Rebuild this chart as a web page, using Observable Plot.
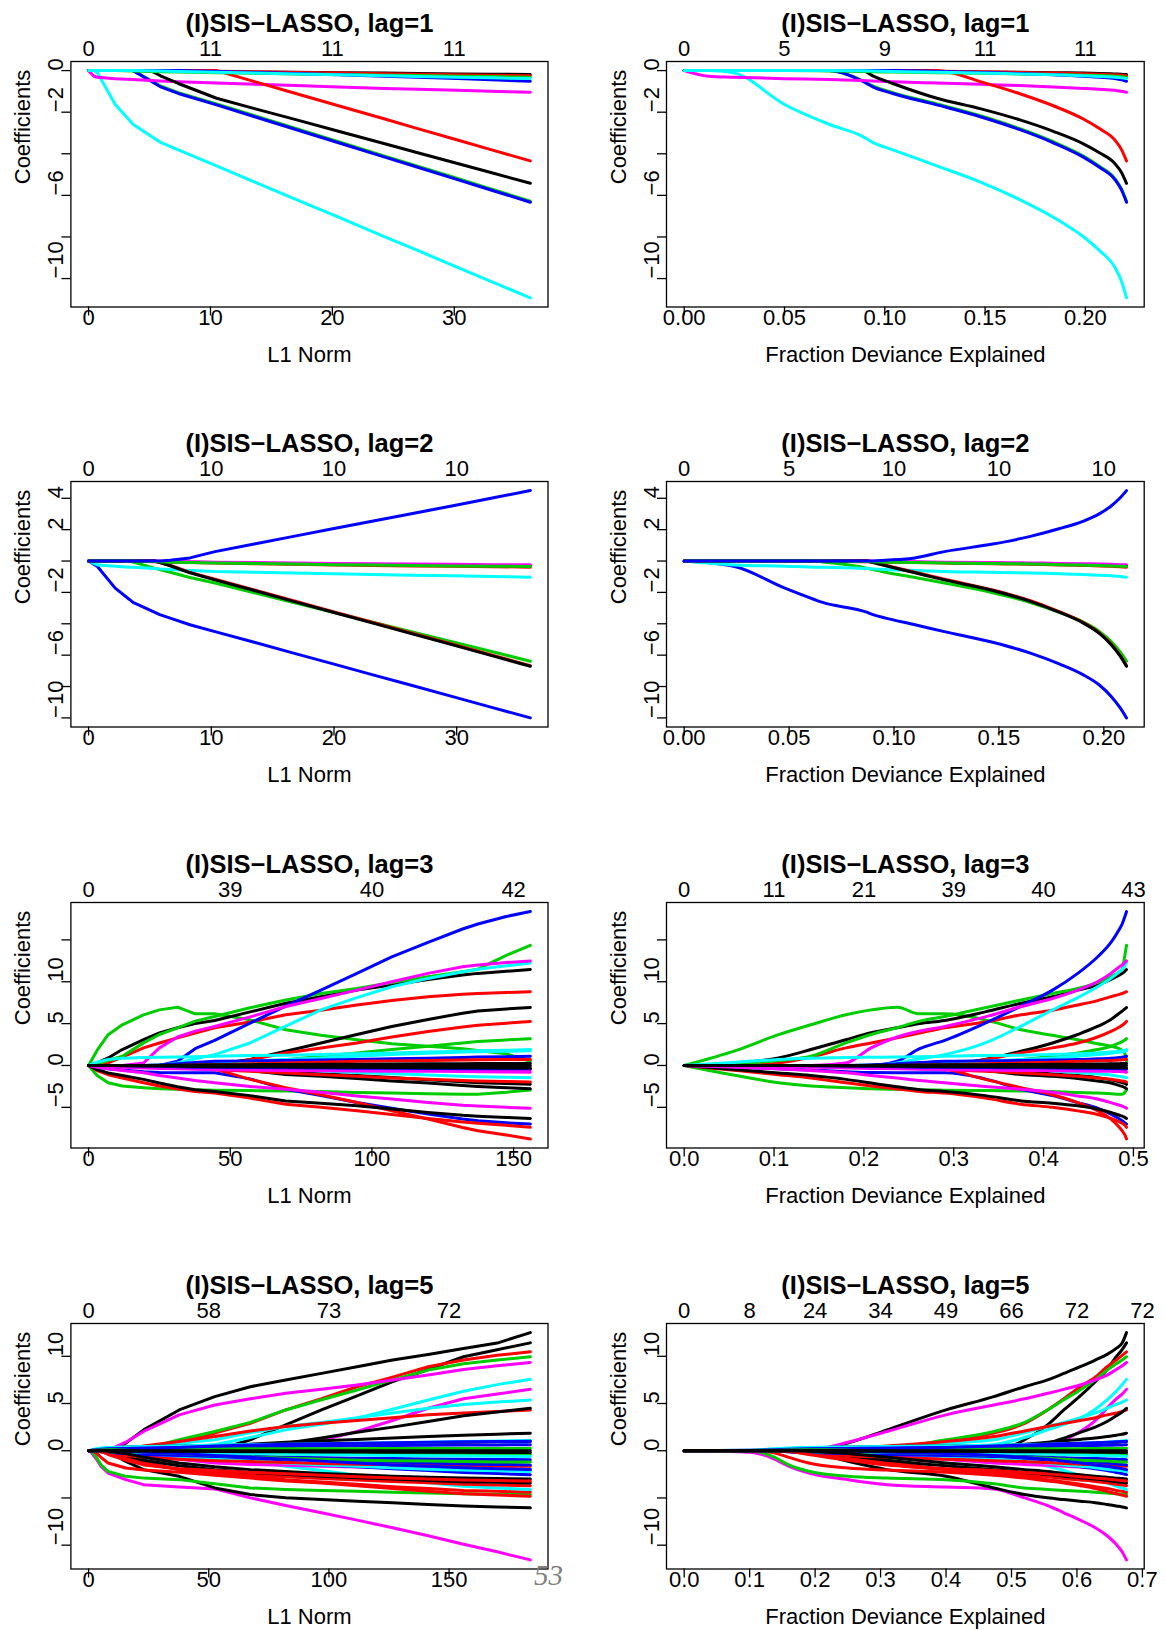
<!DOCTYPE html>
<html><head><meta charset="utf-8">
<script src="https://cdn.jsdelivr.net/npm/d3@7"></script>
<script src="https://cdn.jsdelivr.net/npm/@observablehq/plot@0.6"></script>
<style>
html,body{margin:0;padding:0;background:#fff;}
#page{position:relative;width:1165px;height:1630px;overflow:hidden;background:#fff;}
#page svg{position:absolute;}
#pg{position:absolute;left:534px;top:1561px;font:italic 29px 'Liberation Serif','Times New Roman',serif;color:#808080;line-height:29px;}
</style></head><body><div id="page"><div id="pg">53</div></div>
<script>
const K="#000000",R="#FF0000",G="#00CD00",B="#0000FF",C="#00FFFF",M="#FF00FF";

// ---------- lag = 1 ----------
const lag1L1  = [0,0.44,0.73,2.19,3.65,5.1,5.9,7.36,10.5,13.69,17,20.5,24.3,27,30.27,33,36.24];
const lag1Dev = [0,0.012,0.0247,0.05,0.0722,0.0886,0.094,0.104,0.126,0.148,0.167,0.184,0.199,0.207,0.2147,0.218,0.2205];
const lag1Colors = [K,R,G,B,C,M,K,R,G,B,C];
const lag1Coef = [
 [0,0,0,0,0,-0.01,-0.015,-0.02,-0.05,-0.065,-0.08,-0.1,-0.12,-0.135,-0.16,-0.17,-0.19],
 [0,0,0,0,0,0,0,0,-0.03,-0.06,-0.09,-0.12,-0.15,-0.17,-0.2,-0.22,-0.25],
 [0,0,0,0,0,-0.47,-0.74,-1.06,-1.6,-2.18,-2.78,-3.42,-4.11,-4.6,-5.19,-5.69,-6.28],
 [0,0,0,0,0,-0.5,-0.78,-1.1,-1.65,-2.23,-2.83,-3.47,-4.16,-4.65,-5.24,-5.74,-6.33],
 [0,0,-0.11,-1.63,-2.58,-3.15,-3.45,-3.81,-4.58,-5.37,-6.19,-7.05,-7.99,-8.65,-9.46,-10.13,-10.93],
 [0,-0.27,-0.32,-0.39,-0.43,-0.48,-0.5,-0.54,-0.6,-0.66,-0.72,-0.79,-0.86,-0.9,-0.95,-0.99,-1.04],
 [0,0,0,0,0,0,-0.25,-0.62,-1.33,-1.84,-2.36,-2.92,-3.52,-3.95,-4.47,-4.9,-5.42],
 [0,0,0,0,0,0,0,0,0,-0.54,-1.1,-1.69,-2.33,-2.79,-3.34,-3.8,-4.34],
 [0,0,0,0,-0.02,-0.04,-0.05,-0.07,-0.1,-0.13,-0.16,-0.19,-0.22,-0.24,-0.27,-0.29,-0.32],
 [0,0,0,0,0,0,0,0,-0.04,-0.09,-0.14,-0.2,-0.27,-0.32,-0.38,-0.44,-0.51],
 [0,0,0,0,0,-0.01,-0.02,-0.04,-0.08,-0.12,-0.16,-0.2,-0.25,-0.28,-0.32,-0.35,-0.38]
];
const lag1L1Ticks = [0,10,20,30];
const lag1L1Top = ["0","11","11","11"];
const lag1DevTicks = [0,0.05,0.1,0.15,0.2];
const lag1DevTickText = ["0.00","0.05","0.10","0.15","0.20"];
const lag1DevTop = ["0","5","9","11","11"];
const lag1YTicks = [-10,-8,-6,-4,-2,0];
const lag1YLabels = [-10,-6,-2,0];

// ---------- lag = 2 ----------
const lag2L1  = [0,0.72,2.17,3.33,3.62,5.36,5.8,6.65,8.26,10.3,13.5,16.7,20,23.1,26.3,29.6,33,36];
const lag2Dev = [0,0.024,0.048,0.062,0.066,0.087,0.09,0.096,0.11,0.124,0.147,0.165,0.179,0.19,0.198,0.2035,0.2078,0.2108];
const lag2Colors = [K,R,G,B,C,M,R,K,G,B];
const lag2Coef = [
 [0,0,0,0,0,-0.02,-0.03,-0.05,-0.08,-0.1,-0.14,-0.17,-0.2,-0.22,-0.24,-0.26,-0.28,-0.3],
 [0,0,0,0,0,-0.05,-0.06,-0.08,-0.1,-0.13,-0.17,-0.21,-0.25,-0.28,-0.31,-0.34,-0.36,-0.39],
 [0,0,0,0,-0.06,-0.45,-0.55,-0.72,-1.05,-1.4,-2.02,-2.64,-3.28,-3.88,-4.5,-5.14,-5.8,-6.39],
 [0,-0.35,-1.73,-2.45,-2.64,-3.26,-3.42,-3.64,-4.06,-4.5,-5.18,-5.87,-6.57,-7.24,-7.92,-8.63,-9.36,-10.0],
 [0,-0.25,-0.33,-0.39,-0.4,-0.47,-0.5,-0.54,-0.6,-0.67,-0.72,-0.77,-0.81,-0.86,-0.9,-0.94,-0.99,-1.03],
 [0,0,0,0,0,0,-0.01,-0.03,-0.05,-0.07,-0.1,-0.12,-0.15,-0.17,-0.19,-0.21,-0.23,-0.24],
 [0,0,0,0,0,0,-0.08,-0.27,-0.72,-1.16,-1.84,-2.53,-3.24,-3.9,-4.59,-5.29,-6.02,-6.67],
 [0,0,0,0,0,0,-0.1,-0.3,-0.75,-1.2,-1.88,-2.57,-3.28,-3.94,-4.63,-5.33,-6.06,-6.71],
 [0,0,0,0,0,-0.03,-0.05,-0.07,-0.1,-0.12,-0.16,-0.19,-0.23,-0.26,-0.29,-0.31,-0.33,-0.35],
 [0,0,0,0,0,0,0,0.05,0.2,0.6,1.08,1.57,2.07,2.53,3.02,3.51,4.03,4.49]
];
const lag2L1Ticks = [0,10,20,30];
const lag2L1Top = ["0","10","10","10"];
const lag2DevTicks = [0,0.05,0.1,0.15,0.2];
const lag2DevTickText = ["0.00","0.05","0.10","0.15","0.20"];
const lag2DevTop = ["0","5","10","10","10"];
const lag2YTicks = [-10,-8,-6,-4,-2,0,2,4];
const lag2YLabels = [-10,-6,-2,2,4];

// ---------- lag = 3 ----------
const lag3L1  = [0,3,6.9,11.9,19.4,25,31.4,37.6,44.5,57,69.6,82,94.7,107,119.8,132,137.4,147.4,155.9];
const lag3Dev = [0,0.058,0.105,0.141,0.18,0.208,0.237,0.262,0.29,0.335,0.375,0.41,0.438,0.46,0.475,0.4845,0.4875,0.4905,0.4923];
const lag3Colors = [G,G,K,R,G,B,C,M,K,R,G,C,C,B,B,R,R,K,M,K,K,R,C,M,M,B,R,K,K,K];
const lag3Coef = [
 [0,-1.2,-2.06,-2.45,-2.65,-2.78,-2.85,-2.9,-2.95,-3.0,-3.04,-3.1,-3.24,-3.3,-3.38,-3.44,-3.44,-3.2,-2.92],
 [0,1.8,3.68,4.86,6.05,6.64,6.96,6.17,6.17,5.45,4.27,3.6,3.08,2.6,2.3,2.0,1.8,1.4,0.5],
 [0,0.3,0.9,1.9,3.08,3.9,4.5,5.0,5.38,6.4,7.43,8.2,9.0,9.6,10.28,10.8,11.0,11.25,11.46],
 [0,0,0.3,1.0,2.1,2.69,3.3,3.87,4.5,5.2,6.05,6.6,7.23,7.75,8.22,8.5,8.6,8.72,8.81],
 [0,0.2,0.6,1.1,2.7,3.7,4.5,5.3,5.85,6.9,7.83,8.6,9.2,9.9,10.6,11.2,11.5,13.16,14.35],
 [0,0,0,0,0,0,0.5,2.0,3.0,5.06,7.1,9.0,11.0,12.96,14.7,16.3,16.9,17.8,18.38],
 [0,0,0,0,0,0,0.3,0.8,1.3,2.69,4.7,6.64,8.1,9.4,10.4,11.2,11.5,11.9,12.25],
 [0,0,0,0,0.3,2.1,3.4,4.1,4.66,5.8,7.04,8.0,9.0,10.0,11.0,11.8,12.0,12.3,12.49],
 [0,0,0,0,0,0,0,0,0.1,0.71,1.7,2.69,3.7,4.66,5.5,6.25,6.5,6.75,6.92],
 [0,0,0,0,0,0,0,0,0,0.7,1.5,2.1,2.69,3.4,4.07,4.6,4.8,5.05,5.26],
 [0,0,0,0,0,0,0,0,0,0.3,0.7,1.1,1.5,1.9,2.3,2.69,2.85,3.05,3.2],
 [0,0.4,0.71,0.85,0.95,0.98,1.0,1.05,1.1,1.18,1.23,1.3,1.4,1.5,1.6,1.7,1.75,1.82,1.9],
 [0,0,0,0,0,0.05,0.1,0.2,0.3,0.5,0.7,0.9,1.1,1.3,1.45,1.6,1.65,1.7,1.75],
 [0,0,0,0,0,0.05,0.2,0.35,0.5,0.55,0.6,0.65,0.7,0.8,0.85,0.95,1.0,1.05,1.1],
 [0,-0.2,-0.4,-0.55,-0.75,-0.85,-0.87,-0.87,-0.87,-1.6,-2.85,-3.6,-4.43,-5.1,-5.81,-6.4,-6.6,-6.85,-7.0],
 [0,0,0,0,0,0,0,0,-0.4,-1.66,-2.65,-3.5,-4.43,-5.4,-6.4,-7.4,-7.8,-8.3,-8.77],
 [0,-0.6,-1.1,-1.5,-2.06,-2.45,-2.8,-3.1,-3.3,-3.9,-4.62,-5.0,-5.42,-5.85,-6.32,-6.75,-6.9,-7.15,-7.39],
 [0,-0.5,-0.9,-1.2,-1.66,-2.1,-2.55,-2.9,-3.1,-3.6,-4.23,-4.5,-4.82,-5.2,-5.61,-5.95,-6.05,-6.2,-6.32],
 [0,-0.2,-0.4,-0.6,-0.87,-1.2,-1.5,-1.8,-2.06,-2.5,-2.85,-3.2,-3.64,-4.0,-4.43,-4.75,-4.85,-5.0,-5.1],
 [0,0,0,0,0,0,0,-0.1,-0.3,-0.6,-1.07,-1.3,-1.55,-1.86,-2.1,-2.4,-2.5,-2.65,-2.77],
 [0,0,0,0,0,-0.1,-0.2,-0.3,-0.4,-0.6,-0.8,-1.0,-1.2,-1.45,-1.7,-1.95,-2.05,-2.15,-2.25],
 [0,0,0,0,-0.1,-0.2,-0.3,-0.4,-0.5,-0.7,-0.9,-1.1,-1.3,-1.5,-1.65,-1.8,-1.85,-1.92,-1.98],
 [0,0,0,0,0,0,0,0,-0.1,-0.3,-0.47,-0.65,-0.85,-1.0,-1.15,-1.3,-1.35,-1.4,-1.46],
 [0,-0.05,-0.1,-0.2,-0.3,-0.35,-0.4,-0.45,-0.5,-0.55,-0.6,-0.62,-0.65,-0.68,-0.7,-0.73,-0.75,-0.77,-0.8],
 [0,0,0,0,0,0,-0.05,-0.1,-0.15,-0.2,-0.25,-0.3,-0.35,-0.38,-0.42,-0.45,-0.47,-0.48,-0.5],
 [0,0,0,0,-0.05,-0.1,-0.15,-0.2,-0.22,-0.25,-0.27,-0.3,-0.32,-0.34,-0.36,-0.38,-0.39,-0.4,-0.4],
 [0,0,0,0,0,0,0,0.05,0.1,0.2,0.3,0.4,0.5,0.55,0.6,0.65,0.68,0.7,0.72],
 [0,0,0,0,0,0,0,0,0,0,0,0,0,0,0,0,0,0,0],
 [0,0,0,-0.02,-0.05,-0.07,-0.1,-0.12,-0.14,-0.16,-0.18,-0.2,-0.22,-0.24,-0.26,-0.27,-0.28,-0.29,-0.3],
 [0,0,0,0,0,0.02,0.04,0.06,0.08,0.1,0.12,0.14,0.16,0.18,0.2,0.22,0.23,0.24,0.25]
];
const lag3L1Ticks = [0,50,100,150];
const lag3L1Top = ["0","39","40","42"];
const lag3DevTicks = [0,0.1,0.2,0.3,0.4,0.5];
const lag3DevTickText = ["0.0","0.1","0.2","0.3","0.4","0.5"];
const lag3DevTop = ["0","11","21","39","40","43"];
const lag3YTicks = [-5,0,5,10,15];
const lag3YLabels = [-5,0,5,10];

// ---------- lag = 5 ----------
const lag5L1  = [0,1,3,5.2,8.1,15.5,22.9,37.7,52.5,67.3,82,96.9,111.7,126.5,141.3,156,170,183.8];
const lag5Dev = [0,0.1,0.135,0.16,0.19,0.25,0.31,0.4,0.473,0.52,0.555,0.58,0.605,0.628,0.646,0.66,0.669,0.6757];
const lag5Colors = [K,K,R,G,M,C,M,C,R,K,K,K,C,B,G,B, M,K,G,R,R,C,R,K,M,B,C,R,B,G,B,G,C,B,K,R,K,K];
const lag5Coef = [
 [0,0,0,0,0.05,0.81,2.21,4.32,5.73,6.78,7.5,8.19,8.9,9.6,10.2,10.83,11.4,12.51],
 [0,0,0,0,0,0,0,0,0,1.16,2.74,4.32,5.8,7.31,8.6,9.95,10.7,11.42],
 [0,0,0,0,0,0,0.1,0.98,1.86,2.9,4.32,5.5,6.78,7.8,8.89,9.6,10.1,10.47],
 [0,0,0,0,0,0,0.2,1.16,2.04,3.0,4.32,5.4,6.43,7.5,8.54,9.2,9.6,9.95],
 [0,0,0,0,0.05,0.9,2.04,3.8,4.85,5.5,6.08,6.5,6.96,7.5,8.01,8.6,9.0,9.35],
 [0,0,0,0,0,0,0,0.2,0.63,1.4,2.21,2.8,3.44,4.4,5.38,6.3,7.0,7.56],
 [0,0,0,0,0,0,0,0,0,0,0.28,1.1,2.04,3.2,4.5,5.5,6.0,6.5],
 [0,0,0,0,0.1,0.3,0.46,0.8,1.16,1.9,2.57,3.0,3.5,4.0,4.5,4.9,5.15,5.38],
 [0,0,0,0,0,0.2,0.5,0.98,1.5,2.1,2.57,2.9,3.2,3.5,3.8,4.0,4.15,4.32],
 [0,0,0,0,0,0,0,0,0,0.3,0.8,1.34,1.95,2.5,3.09,3.7,4.1,4.5],
 [0,0,0,0,0,0,0.1,0.3,0.5,0.7,0.9,1.05,1.2,1.35,1.5,1.65,1.75,1.86],
 [0,0,0.1,0.2,0.3,0.4,0.45,0.5,0.55,0.6,0.65,0.7,0.75,0.8,0.85,0.9,0.95,0.98],
 [0,0.05,0.2,0.3,0.35,0.4,0.45,0.5,0.6,0.65,0.7,0.75,0.8,0.85,0.9,0.98,1.03,1.09],
 [0,0.05,0.1,0.15,0.2,0.25,0.3,0.35,0.4,0.45,0.48,0.5,0.53,0.55,0.58,0.6,0.62,0.63],
 [0,0.02,0.05,0.08,0.1,0.12,0.14,0.16,0.18,0.2,0.21,0.22,0.22,0.23,0.23,0.24,0.24,0.25],
 [0,0,0,0,0,0.1,0.2,0.35,0.5,0.6,0.7,0.75,0.8,0.85,0.9,0.95,0.98,1.0],
 [0,-0.15,-0.8,-1.65,-2.36,-3.06,-3.59,-3.85,-4.04,-4.99,-5.8,-6.57,-7.35,-8.15,-9.0,-9.91,-10.7,-11.56],
 [0,0,0,0,-0.1,-1.12,-2.0,-2.71,-3.94,-4.64,-4.99,-5.17,-5.34,-5.5,-5.69,-5.85,-5.95,-6.05],
 [0,0,-0.6,-1.5,-2.18,-2.71,-2.9,-3.06,-3.5,-3.94,-4.1,-4.2,-4.29,-4.4,-4.48,-4.55,-4.6,-4.64],
 [0,0,-0.2,-0.7,-1.3,-1.83,-2.05,-2.28,-2.6,-2.9,-3.2,-3.41,-3.7,-4.0,-4.3,-4.55,-4.7,-4.82],
 [0,0,0,-0.1,-0.3,-0.6,-1.2,-2.0,-2.4,-2.7,-3.06,-3.3,-3.55,-3.8,-4.0,-4.2,-4.3,-4.39],
 [0,0,0,0,0,0,0,-0.2,-0.6,-1.1,-1.65,-2.1,-2.6,-3.0,-3.4,-3.75,-3.95,-4.11],
 [0,0,0,0,-0.2,-0.8,-1.4,-2.0,-2.3,-2.55,-2.75,-2.95,-3.1,-3.25,-3.4,-3.55,-3.62,-3.7],
 [0,0,0,0,-0.1,-0.5,-1.0,-1.6,-2.0,-2.3,-2.5,-2.7,-2.85,-3.0,-3.15,-3.28,-3.35,-3.41],
 [0,0,0,0,0,-0.1,-0.4,-0.9,-1.3,-1.45,-1.55,-1.65,-1.72,-1.8,-1.86,-1.92,-1.96,-2.0],
 [0,0,0,0,0,0,-0.1,-0.3,-0.6,-0.9,-1.2,-1.5,-1.7,-1.9,-2.1,-2.3,-2.42,-2.53],
 [0,0,0,0,0,-0.1,-0.3,-0.6,-0.9,-1.1,-1.3,-1.5,-1.65,-1.8,-1.95,-2.05,-2.12,-2.2],
 [0,0,0,-0.05,-0.2,-0.5,-0.7,-0.9,-1.05,-1.15,-1.25,-1.35,-1.42,-1.48,-1.53,-1.58,-1.62,-1.65],
 [0,0,-0.05,-0.1,-0.2,-0.3,-0.4,-0.5,-0.6,-0.65,-0.7,-0.75,-0.8,-0.83,-0.87,-0.9,-0.93,-0.95],
 [0,-0.02,-0.05,-0.08,-0.1,-0.15,-0.2,-0.25,-0.3,-0.32,-0.34,-0.35,-0.36,-0.37,-0.38,-0.39,-0.4,-0.4],
 [0,0,0,0,0,0,0,-0.2,-0.4,-0.6,-0.75,-0.9,-1.05,-1.2,-1.3,-1.4,-1.45,-1.5],
 [0,0,0,0,0,0,-0.1,-0.3,-0.5,-0.65,-0.8,-0.9,-1.0,-1.05,-1.1,-1.15,-1.18,-1.2],
 [0,0,0,0,-0.05,-0.1,-0.15,-0.2,-0.25,-0.3,-0.35,-0.4,-0.45,-0.5,-0.52,-0.55,-0.58,-0.6],
 [0,0,0,0,0,-0.05,-0.15,-0.3,-0.5,-0.7,-0.9,-1.1,-1.3,-1.5,-1.65,-1.8,-1.9,-2.0],
 [0,0,0,0,-0.05,-0.3,-0.7,-1.3,-1.7,-2.0,-2.2,-2.4,-2.55,-2.7,-2.8,-2.9,-2.95,-3.0],
 [0,0,0,-0.05,-0.4,-1.0,-1.5,-1.9,-2.1,-2.3,-2.45,-2.6,-2.75,-2.9,-3.0,-3.1,-3.15,-3.2],
 [0,0,0,0,0,-0.02,-0.04,-0.06,-0.08,-0.1,-0.12,-0.13,-0.14,-0.15,-0.16,-0.17,-0.18,-0.2],
 [0,0,0,0,0,0,0,0,0,0,0,0,0,0,0,0,0,0]
];
const lag5L1Ticks = [0,50,100,150];
const lag5L1Top = ["0","58","73","72"];
const lag5DevTicks = [0,0.1,0.2,0.3,0.4,0.5,0.6,0.7];
const lag5DevTickText = ["0.0","0.1","0.2","0.3","0.4","0.5","0.6","0.7"];
const lag5DevTop = ["0","8","24","34","49","66","72","72"];
const lag5YTicks = [-10,-5,0,5,10];
const lag5YLabels = [-10,0,5,10];

// ---------- drawing ----------
const FONT = "'Liberation Sans', Arial, Helvetica, sans-serif";
const page = document.getElementById("page");
const pad4 = v => { const lo = d3.min(v), hi = d3.max(v), p = (hi - lo) * 0.04; return [lo - p, hi + p]; };
const minus = v => (v < 0 ? "\u2212" : "") + Math.abs(v);

function panel(cfg) {
  const {xs, coef, colors, xTicks, xText, top, yTicks, yLab, xTitle, title, curve, side, row} = cfg;
  const rowTops = [0, 420, 841.3, 1262.3];
  const left = side === 0 ? 0 : 583;
  const width = side === 0 ? 583 : 582;
  const ml = side === 0 ? 70.4 : 83;
  const mr = side === 0 ? 35.5 : 21.3;
  const rows = coef.flatMap((s, k) => s.map((v, j) => ({x: xs[j], y: v, k})));
  const marks = [];
  coef.forEach((s, k) => marks.push(Plot.line(rows.filter(r => r.k === k), {
    x: "x", y: "y", stroke: colors[k], strokeWidth: 3, curve,
    strokeLinejoin: "round", strokeLinecap: "round"})));
  marks.push(
    Plot.frame({stroke: "black", strokeWidth: 1.3}),
    Plot.axisX({anchor: "bottom", ticks: xTicks, tickSize: 9, tickFormat: () => "", label: null, strokeWidth: 1.3}),
    Plot.axisY({anchor: "left", ticks: yTicks, tickSize: 9, tickFormat: () => "", label: null, strokeWidth: 1.3}),
    Plot.text(xTicks, {x: d => d, text: (d, i) => xText[i], frameAnchor: "bottom", dy: 18, lineAnchor: "bottom", fontSize: 22}),
    Plot.text(xTicks, {x: d => d, text: (d, i) => top[i], frameAnchor: "top", dy: -6, lineAnchor: "bottom", fontSize: 22}),
    Plot.text(yLab, {y: d => d, text: minus, frameAnchor: "left", dx: -8, rotate: -90, lineAnchor: "bottom", fontSize: 22}),
    Plot.text([title], {text: d => d, frameAnchor: "top", dy: -29.3, lineAnchor: "bottom", fontSize: 25.5, fontWeight: "bold"}),
    Plot.text([xTitle], {text: d => d, frameAnchor: "bottom", dy: 54.7, lineAnchor: "bottom", fontSize: 22}),
    Plot.text(["Coefficients"], {text: d => d, frameAnchor: "left", dx: -40.5, rotate: -90, lineAnchor: "bottom", fontSize: 22})
  );
  const svg = Plot.plot({
    width, height: 420,
    marginLeft: ml, marginRight: mr, marginTop: 61, marginBottom: 113.5,
    x: {domain: pad4(xs)},
    y: {domain: pad4(coef.flat())},
    style: {background: "transparent", color: "black", fontFamily: FONT, overflow: "visible"},
    marks
  });
  svg.style.left = left + "px";
  svg.style.top = rowTops[row] + "px";
  page.insertBefore(svg, document.getElementById("pg"));
}

const sets = [
  {lag: 1, l1: lag1L1, dev: lag1Dev, coef: lag1Coef, colors: lag1Colors, l1Ticks: lag1L1Ticks, l1Top: lag1L1Top,
   devTicks: lag1DevTicks, devText: lag1DevTickText, devTop: lag1DevTop, yTicks: lag1YTicks, yLab: lag1YLabels},
  {lag: 2, l1: lag2L1, dev: lag2Dev, coef: lag2Coef, colors: lag2Colors, l1Ticks: lag2L1Ticks, l1Top: lag2L1Top,
   devTicks: lag2DevTicks, devText: lag2DevTickText, devTop: lag2DevTop, yTicks: lag2YTicks, yLab: lag2YLabels},
  {lag: 3, l1: lag3L1, dev: lag3Dev, coef: lag3Coef, colors: lag3Colors, l1Ticks: lag3L1Ticks, l1Top: lag3L1Top,
   devTicks: lag3DevTicks, devText: lag3DevTickText, devTop: lag3DevTop, yTicks: lag3YTicks, yLab: lag3YLabels},
  {lag: 5, l1: lag5L1, dev: lag5Dev, coef: lag5Coef, colors: lag5Colors, l1Ticks: lag5L1Ticks, l1Top: lag5L1Top,
   devTicks: lag5DevTicks, devText: lag5DevTickText, devTop: lag5DevTop, yTicks: lag5YTicks, yLab: lag5YLabels}
];

sets.forEach((s, row) => {
  const title = "(I)SIS\u2212LASSO, lag=" + s.lag;
  panel({xs: s.l1, coef: s.coef, colors: s.colors, xTicks: s.l1Ticks, xText: s.l1Ticks.map(String), top: s.l1Top,
         yTicks: s.yTicks, yLab: s.yLab, xTitle: "L1 Norm", title, curve: "linear", side: 0, row});
  panel({xs: s.dev, coef: s.coef, colors: s.colors, xTicks: s.devTicks, xText: s.devText, top: s.devTop,
         yTicks: s.yTicks, yLab: s.yLab, xTitle: "Fraction Deviance Explained", title, curve: "monotone-x", side: 1, row});
});
</script></body></html>
